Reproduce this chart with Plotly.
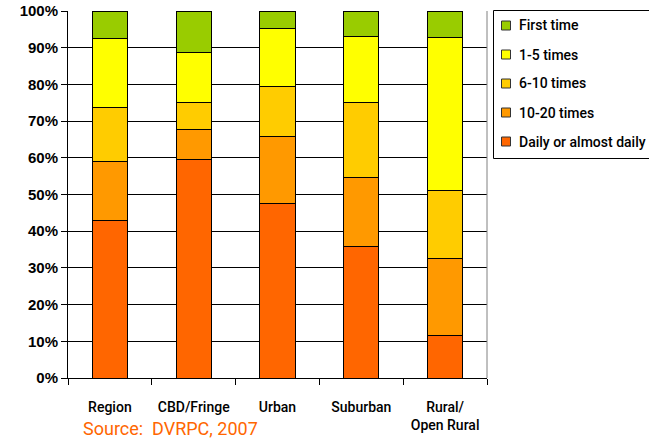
import plotly.graph_objects as go

categories = ["Region", "CBD/Fringe", "Urban", "Suburban", "Rural/<br>Open Rural"]

daily = [43.0, 59.5, 47.5, 35.9, 11.6]
times_10_20 = [16.0, 8.3, 18.4, 18.8, 20.9]
times_6_10 = [14.7, 7.4, 13.6, 20.4, 18.6]
times_1_5 = [18.8, 13.5, 15.6, 18.0, 41.7]
first_time = [7.5, 11.3, 4.9, 6.9, 7.2]

series = [
    ("Daily or almost daily", daily, "#FF6600"),
    ("10-20 times", times_10_20, "#FF9900"),
    ("6-10 times", times_6_10, "#FFCC00"),
    ("1-5 times", times_1_5, "#FFFF00"),
    ("First time", first_time, "#99CC00"),
]

y_ticks = list(range(0, 101, 10))
y_tick_labels = [f"{v}%" for v in y_ticks]

LABEL_FONT = "Roboto, Liberation Sans, sans-serif"
W, H = 649, 441
M_L, M_R, M_T, M_B = 68, 162, 11, 63
PW, PH = W - M_L - M_R, H - M_T - M_B


def px_x(x):
    return (x - M_L) / PW


def px_y(y):
    return (H - M_B - y) / PH


fig = go.Figure()
for name, vals, color in series:
    fig.add_trace(go.Bar(
        x=categories, y=vals, name=name,
        marker=dict(color=color, line=dict(color="#000000", width=1)),
        width=0.42,
    ))

# Legend panel drawn as shapes + text so its spacing can be set exactly
shapes = [
    dict(type="line", xref="paper", yref="paper", x0=1, x1=1, y0=0, y1=1,
         line=dict(color="#808080", width=1)),
    dict(type="rect", xref="paper", yref="paper",
         x0=px_x(493.5), x1=px_x(660), y0=px_y(158.5), y1=px_y(10.5),
         line=dict(color="#000000", width=1), fillcolor="white", layer="above"),
]
annotations = []
row_y = 25.5
for name, _, color in reversed(series):
    shapes.append(dict(
        type="rect", xref="paper", yref="paper",
        x0=px_x(501.5), x1=px_x(510.5), y0=px_y(row_y + 4.5), y1=px_y(row_y - 4.5),
        line=dict(color="#333333", width=1), fillcolor=color, layer="above",
    ))
    annotations.append(dict(
        text=name, xref="paper", yref="paper", x=px_x(517), y=px_y(row_y),
        xanchor="left", yanchor="middle", showarrow=False,
        font=dict(family=LABEL_FONT, size=14, color="#000000", weight=500),
    ))
    row_y += 29

annotations.append(dict(
    text="Source:  DVRPC, 2007", xref="paper", yref="paper",
    x=px_x(81), y=px_y(441), xanchor="left", yanchor="bottom",
    showarrow=False,
    font=dict(family=LABEL_FONT, size=18, color="#FF6600"),
))

fig.update_layout(
    barmode="stack",
    width=W, height=H,
    margin=dict(l=M_L, r=M_R, t=M_T, b=M_B, autoexpand=False),
    paper_bgcolor="white", plot_bgcolor="white",
    showlegend=False,
    xaxis=dict(
        showline=True, linecolor="#000000", linewidth=1,
        ticks="outside", tickson="boundaries", ticklen=6, tickcolor="#000000",
        showgrid=False, ticklabelstandoff=16, tickangle=0,
        tickfont=dict(family=LABEL_FONT, size=14, color="#000000", weight=500),
        automargin=False,
    ),
    yaxis=dict(
        range=[0, 100], tickvals=y_ticks, ticktext=y_tick_labels,
        showline=True, linecolor="#000000", linewidth=1,
        ticks="outside", ticklen=6, tickcolor="#000000",
        showgrid=True, gridcolor="#000000", gridwidth=1,
        tickfont=dict(family="Liberation Sans, Arial, sans-serif", size=15,
                      color="#000000", weight="bold"),
        zeroline=False, automargin=False,
    ),
    shapes=shapes,
    annotations=annotations,
)

fig.write_html("out.html")
